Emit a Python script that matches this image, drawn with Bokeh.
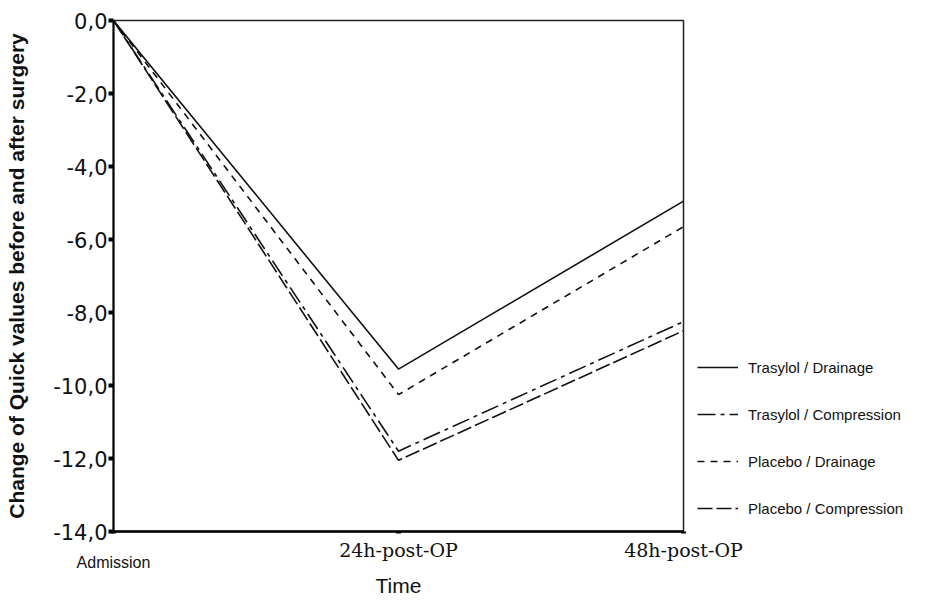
from bokeh.plotting import figure
from bokeh.models import Range1d, FixedTicker, Legend, LegendItem, LinearAxis
from bokeh.embed import file_html
from bokeh.resources import INLINE

times = ["Admission", "24h-post-OP", "48h-post-OP"]
trasylol_drainage = [0.0, -9.55, -4.95]
trasylol_compression = [0.0, -11.8, -8.25]
placebo_drainage = [0.0, -10.25, -5.65]
placebo_compression = [0.0, -12.05, -8.5]
y_ticks = [-14, -12, -10, -8, -6, -4, -2, 0]

series_names = ["Trasylol / Drainage", "Trasylol / Compression",
                "Placebo / Drainage", "Placebo / Compression"]
series_values = [trasylol_drainage, trasylol_compression,
                 placebo_drainage, placebo_compression]
series_dash = ["solid", "18 5 4 5", "7 6", "15 4"]

x = list(range(len(times)))

p = figure(frame_width=570, frame_height=511, output_backend="svg", toolbar_location=None,
           x_range=Range1d(0, len(times) - 1), y_range=Range1d(min(y_ticks), max(y_ticks)),
           min_border_left=113, min_border_top=20, min_border_right=227,
           min_border_bottom=66, x_axis_location=None)

p.xgrid.grid_line_color = None
p.ygrid.grid_line_color = None
p.outline_line_color = "#222222"
p.outline_line_width = 1.5
p.background_fill_color = "white"

items = []
for name, ys, dash in zip(series_names, series_values, series_dash):
    r = p.line(x, ys, line_color="#111111", line_width=1.6, line_dash=dash)
    items.append(LegendItem(label=name, renderers=[r]))

legend = Legend(items=items, location=(14, 4), glyph_width=41, glyph_height=20,
                label_height=38, spacing=9, padding=0, margin=0, label_standoff=10,
                label_text_font="Liberation Sans", label_text_font_size="15px",
                label_text_color="#111111",
                border_line_color=None, background_fill_alpha=0)
p.add_layout(legend, "right")

# y axis
p.yaxis.ticker = FixedTicker(ticks=y_ticks)
p.yaxis.major_label_overrides = {t: f"{t:.1f}".replace(".", ",") for t in y_ticks}
p.yaxis.major_tick_out = 5
p.yaxis.major_tick_in = 0
p.yaxis.major_tick_line_width = 4
p.yaxis.minor_tick_line_color = None
p.yaxis.axis_line_width = 2
p.yaxis.major_label_standoff = 1
p.yaxis.major_label_text_font = "DejaVu Sans"
p.yaxis.major_label_text_font_size = "21px"
p.yaxis.major_label_text_color = "#111111"
p.yaxis.axis_label = "Change of Quick values before and after surgery"
p.yaxis.axis_label_text_font = "Liberation Sans"
p.yaxis.axis_label_text_font_style = "bold"
p.yaxis.axis_label_text_font_size = "21px"
p.yaxis.axis_label_text_color = "#111111"
p.yaxis.axis_label_standoff = 22

# x axis (serif time-point labels)
xa = LinearAxis(ticker=FixedTicker(ticks=x),
                major_label_overrides={i: (t if i > 0 else "") for i, t in enumerate(times)},
                major_tick_out=2, major_tick_in=0, major_tick_line_width=5,
                minor_tick_line_color=None, axis_line_width=2.5, major_label_standoff=5,
                major_label_text_font="DejaVu Serif", major_label_text_font_size="19px",
                major_label_text_color="#111111")
p.add_layout(xa, "below")

# second x axis: sans-serif "Admission" label and the axis title
xb = LinearAxis(ticker=FixedTicker(ticks=x),
                major_label_overrides={i: (t if i == 0 else "") for i, t in enumerate(times)},
                axis_line_color=None, major_tick_line_color=None, minor_tick_line_color=None,
                major_label_standoff=-16,
                major_label_text_font="Liberation Sans", major_label_text_font_size="16px",
                major_label_text_color="#111111",
                axis_label="Time", axis_label_text_font="Liberation Sans",
                axis_label_text_font_style="normal", axis_label_text_font_size="21px",
                axis_label_text_color="#111111", axis_label_standoff=0)
p.add_layout(xb, "below")

open("out.html", "w").write(file_html(p, INLINE))
